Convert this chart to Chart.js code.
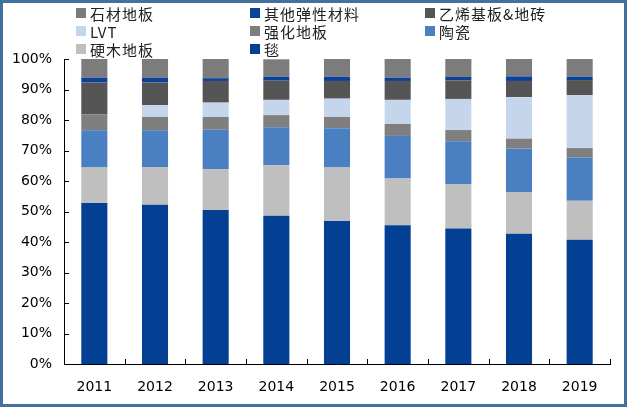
<!DOCTYPE html>
<html>
<head>
<meta charset="utf-8">
<script src="https://cdn.jsdelivr.net/npm/chart.js@4"></script>
<style>
  html, body { margin: 0; padding: 0; background: #fff; }
  #frame {
    width: 627px; height: 407px; box-sizing: border-box;
    border: 3px solid #41719c; background: #fff;
  }
  #c { display: block; }
</style>
</head>
<body>
<div id="frame"><canvas id="c" width="621" height="401"></canvas></div>
<script>
// years on x axis
const years = ["2011", "2012", "2013", "2014", "2015", "2016", "2017", "2018", "2019"];

// share of each material, % (bottom of stack first)
const tan      = [52.8, 52.2, 50.5, 48.6, 46.9, 45.5, 44.4, 42.7, 40.7]; // 毯
const yingmu   = [11.6, 12.4, 13.4, 16.6, 17.5, 15.3, 14.6, 13.7, 12.8]; // 硬木地板
const taoci    = [12.2, 12.0, 12.9, 12.4, 12.9, 14.0, 14.0, 14.2, 14.2]; // 陶瓷
const qianghua = [5.2, 4.4, 4.2, 4.0, 3.7, 3.9, 3.7, 3.3, 3.1];          // 强化地板
const lvt      = [0, 3.9, 4.7, 5.0, 6.0, 7.9, 10.2, 13.6, 17.4];         // LVT
const yixi     = [10.5, 7.4, 7.1, 6.3, 5.8, 6.2, 6.1, 5.3, 4.9];         // 乙烯基板&地砖
const qita     = [1.6, 1.6, 0.9, 1.3, 1.4, 1.1, 1.1, 1.5, 1.1];          // 其他弹性材料
const shicai   = [6.1, 6.1, 6.3, 5.7, 5.8, 6.1, 6.1, 5.7, 5.8];          // 石材地板

const yTicks = [0, 10, 20, 30, 40, 50, 60, 70, 80, 90, 100];

const numFont = "DejaVu Sans";
const cjkFont = "'Noto Sans CJK SC'";

function ds(label, data, color) {
  return {
    label: label,
    data: data,
    backgroundColor: color,
    borderWidth: 0,
    categoryPercentage: 1,
    barPercentage: 0.43,
  };
}

// legend grid: 3 columns, in the order shown in the picture
const legendOrder = ["石材地板", "其他弹性材料", "乙烯基板&地砖", "LVT", "强化地板", "陶瓷", "硬木地板", "毯"];
const legendCols = [73, 247, 422];
const legendRows = [10, 28, 46];

const gridLegend = {
  id: "gridLegend",
  afterDraw(chart) {
    let ctx = chart.ctx;
    ctx.save();
    ctx.textBaseline = "middle";
    ctx.textAlign = "left";
    legendOrder.forEach((name, i) => {
      let d = chart.data.datasets.find((e) => e.label == name);
      let x = legendCols[i % 3];
      let y = legendRows[Math.floor(i / 3)];
      ctx.fillStyle = d.backgroundColor;
      ctx.fillRect(x, y - 5, 10, 10);
      ctx.fillStyle = "#222";
      ctx.font = "15px " + cjkFont;
      ctx.letterSpacing = "1px";
      ctx.fillText(name, x + 14, y + 1);
    });
    ctx.restore();
  },
};

// short ticks pointing into the plot
const innerTicks = {
  id: "innerTicks",
  afterDraw(chart) {
    let ctx = chart.ctx;
    let xs = chart.scales.x;
    let ys = chart.scales.y;
    ctx.save();
    ctx.strokeStyle = "#000";
    ctx.lineWidth = 1;
    ctx.beginPath();
    for (let v of yTicks) {
      let y = Math.round(ys.getPixelForValue(v)) + 0.5;
      ctx.moveTo(xs.left, y);
      ctx.lineTo(xs.left + 5, y);
    }
    let step = (xs.right - xs.left) / years.length;
    for (let k = 1; k <= years.length; k++) {
      let x = Math.round(xs.left + step * k) + 0.5;
      ctx.moveTo(x, ys.bottom);
      ctx.lineTo(x, ys.bottom - 5);
    }
    ctx.stroke();
    ctx.restore();
  },
};

new Chart(document.getElementById("c"), {
  type: "bar",
  data: {
    labels: years,
    datasets: [
      ds("毯", tan, "#033f93"),
      ds("硬木地板", yingmu, "#bfbfbf"),
      ds("陶瓷", taoci, "#4a7fc1"),
      ds("强化地板", qianghua, "#7f7f7f"),
      ds("LVT", lvt, "#c5d6ec"),
      ds("乙烯基板&地砖", yixi, "#555555"),
      ds("其他弹性材料", qita, "#0b409b"),
      ds("石材地板", shicai, "#7c7c7c"),
    ],
  },
  options: {
    responsive: false,
    animation: false,
    layout: { padding: { top: 56, right: 14, bottom: 0, left: 0 } },
    plugins: {
      legend: { display: false },
      tooltip: { enabled: false },
    },
    scales: {
      x: {
        stacked: true,
        grid: { display: false, drawTicks: false },
        border: { display: true, color: "#000", width: 1 },
        ticks: {
          color: "#000",
          font: { family: numFont, size: 14 },
          padding: 15,
        },
        afterFit: (s) => { s.height = 40; },
      },
      y: {
        stacked: true,
        min: 0,
        max: 100,
        grid: { display: false, drawTicks: false },
        border: { display: true, color: "#000", width: 1 },
        afterBuildTicks: (s) => { s.ticks = yTicks.map((v) => ({ value: v })); },
        ticks: {
          color: "#000",
          font: { family: numFont, size: 14 },
          padding: 12,
          callback: (v) => v + "%",
        },
        afterFit: (s) => { s.width = 61; },
      },
    },
  },
  plugins: [gridLegend, innerTicks],
});
</script>
</body>
</html>
